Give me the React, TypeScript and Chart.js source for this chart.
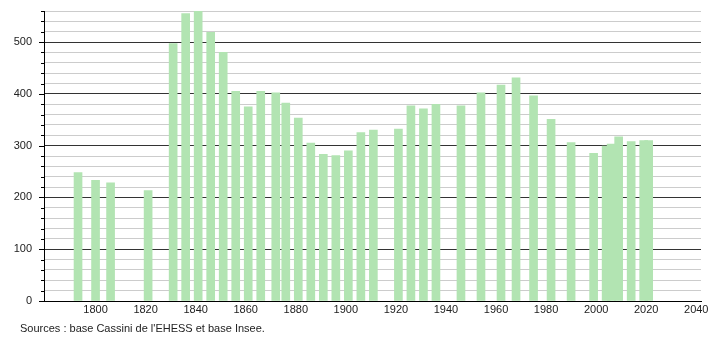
import React, { useEffect, useRef } from "react";
import { Chart, registerables } from "chart.js";

Chart.register(...registerables);

const years: number[] = [
  1793, 1800, 1806, 1821, 1831, 1836, 1841, 1846, 1851, 1856, 1861, 1866, 1872,
  1876, 1881, 1886, 1891, 1896, 1901, 1906, 1911, 1921, 1926, 1931, 1936, 1946,
  1954, 1962, 1968, 1975, 1982, 1990, 1999, 2004, 2006, 2009, 2014, 2019, 2021,
];
const population: number[] = [
  248, 233, 228, 213, 497, 555, 560, 519, 480, 405, 375, 405, 402,
  382, 353, 305, 283, 281, 290, 325, 330, 332, 377, 371, 380, 377,
  402, 417, 431, 396, 351, 306, 285, 299, 303, 317, 308, 310, 310,
];
const sourceText = "Sources : base Cassini de l'EHESS et base Insee.";

const FONT = "'Liberation Sans', Arial, Helvetica, sans-serif";

const yTickMarks = {
  id: "yTickMarks",
  afterDraw(chart: any) {
    const s = chart.scales.y;
    const ctx = chart.ctx;
    ctx.save();
    ctx.strokeStyle = "#000";
    ctx.lineWidth = 1;
    for (const t of s.ticks) {
      const y = Math.round(s.getPixelForValue(t.value)) + 0.5;
      const len = t.value % 100 === 0 ? 5 : 3;
      ctx.beginPath();
      ctx.moveTo(s.right - len, y);
      ctx.lineTo(s.right, y);
      ctx.stroke();
    }
    ctx.restore();
  },
};

export default function App() {
  const ref = useRef<HTMLCanvasElement | null>(null);
  useEffect(() => {
    if (!ref.current) return;
    const chart = new Chart(ref.current, {
      type: "bar",
      data: {
        datasets: [
          {
            data: years.map((y, i) => ({ x: y, y: population[i] })),
            backgroundColor: "rgb(178, 228, 178)",
            borderWidth: 0,
            barThickness: 8,
          },
        ],
      },
      options: {
        animation: false,
        responsive: false,
        devicePixelRatio: 1,
        layout: { padding: { left: 0, right: 9, top: 11, bottom: 21.8 } },
        plugins: {
          legend: { display: false },
          tooltip: { enabled: false },
          title: { display: false },
        },
        scales: {
          x: {
            type: "linear",
            min: 1779.4,
            max: 2041.9,
            offset: false,
            grid: { display: false, drawTicks: false },
            border: { display: true, color: "#000", width: 1 },
            ticks: {
              stepSize: 20,
              includeBounds: false,
              autoSkip: false,
              maxRotation: 0,
              padding: 2,
              color: "#222",
              font: { family: FONT, size: 11 },
              callback: (v: any) => (Number(v) < 1800 ? "" : String(v)),
            },
            afterFit: (s: any) => {
              s.paddingLeft = 0;
              s.paddingRight = 0;
            },
          },
          y: {
            type: "linear",
            min: 0,
            max: 560,
            grid: {
              drawTicks: false,
              color: (c: any) => (c.tick && c.tick.value % 100 === 0 ? "#333" : "#cccccc"),
              lineWidth: 1,
            },
            border: { display: true, color: "#000", width: 1 },
            ticks: {
              stepSize: 20,
              autoSkip: false,
              padding: 12,
              color: "#222",
              font: { family: FONT, size: 11 },
              callback: (v: any) => (Number(v) % 100 === 0 ? String(v) : ""),
            },
            afterFit: (s: any) => {
              s.width = 44;
              s.paddingTop = 0;
              s.paddingBottom = 0;
            },
          },
        },
      },
      plugins: [yTickMarks],
    } as any);
    return () => chart.destroy();
  }, []);
  return (
    <div style={{ position: "absolute", left: 0, top: 0, width: 710, height: 340, background: "#fff" }}>
      <canvas ref={ref} width={710} height={340} style={{ width: 710, height: 340, display: "block" }} />
      <div
        style={{
          position: "absolute",
          left: 20,
          top: 322,
          fontFamily: FONT,
          fontSize: 11,
          lineHeight: "13px",
          color: "#222",
          whiteSpace: "nowrap",
        }}
      >
        {sourceText}
      </div>
    </div>
  );
}
